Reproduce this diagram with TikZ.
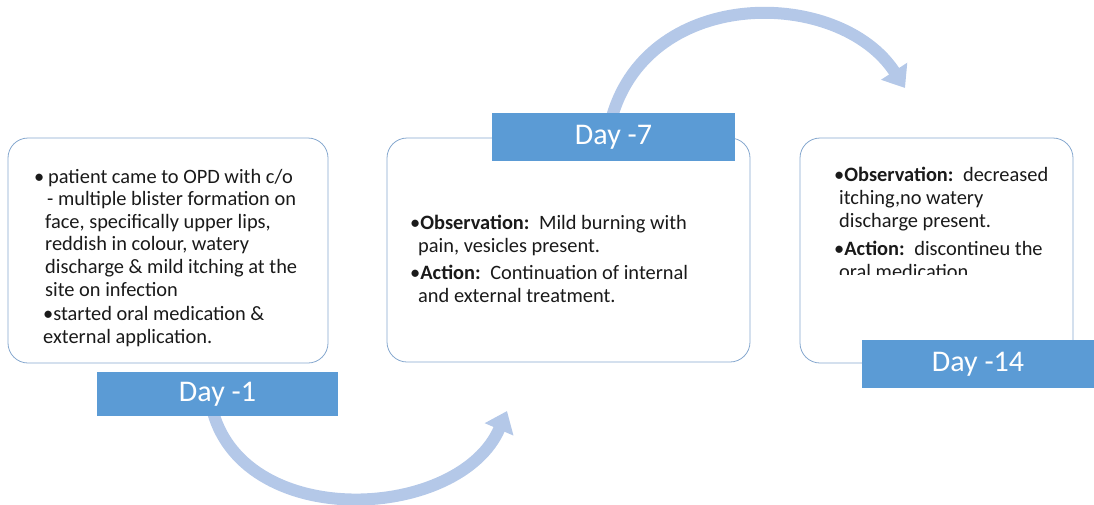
\documentclass[tikz,border=0pt]{standalone}
\usepackage{fontspec}
\setmainfont{Carlito}
\usetikzlibrary{arrows.meta,backgrounds}
\definecolor{tabblue}{HTML}{5B9BD5}
\definecolor{arrowblue}{HTML}{B4C8E8}
\definecolor{boxline}{HTML}{86A8CF}
\definecolor{bodytext}{HTML}{1A1A1A}
\begin{document}
\begin{tikzpicture}[x=1pt,y=-1pt,
  card/.style={draw=boxline, line width=0.8pt, rounded corners=20pt, fill=white, inner sep=0pt},
  daytab/.style={fill=tabblue, text=white, font=\fontsize{30}{36}\selectfont, inner sep=0pt},
  flow/.style={draw=arrowblue, line width=12pt, -{Triangle[length=20pt,width=30pt]}},
  % multi-line text: the base anchor sits on the baseline of the last line
  body/.style={align=left, anchor=base west, inner sep=0pt, text=bodytext,
    font=\fontsize{20.4}{22.6}\selectfont},
]
\useasboundingbox (0,0) rectangle (1094,504);

% content cards
\node[card, minimum width=320pt, minimum height=225pt] (c1) at (168,250.5) {};
\node[card, minimum width=363pt, minimum height=224pt] (c2) at (568.5,250) {};
\node[card, minimum width=273pt, minimum height=225pt] (c3) at (936.5,250.5) {};

% day tabs
\node[daytab, minimum width=241pt, minimum height=44pt] (d1) at (217.5,394) {Day -1};
\node[daytab, minimum width=243pt, minimum height=48pt] (d7) at (613.5,137) {Day -7};
\node[daytab, minimum width=232pt, minimum height=48pt] (d14) at (978,364) {Day -14};

% connecting arrows, drawn behind the tabs
\coordinate (t1) at (507,411);
\coordinate (t2) at (905,88);
\begin{scope}[on background layer]
  \path (d1.south) ++(-4.5,-4) coordinate (s1);
  \path (d7.north) ++(-1.5,4) coordinate (s2);
  \draw[flow] (s1) .. controls (247,532) and (460,520) .. (t1);
  \draw[flow] (s2) .. controls (650,-15) and (840,-12) .. (t2);
\end{scope}

% card texts
\node[body] (b1a) at (45,296) {\llap{•\hspace{1pt}}\hspace{3pt}patient came to OPD with c/o\\
\hspace{2pt}- multiple blister formation on\\ face, specifically upper lips,\\ reddish in colour, watery\\
discharge \& mild itching at the\\ site on infection};
\node[body] (b1b) at (43,343) {•started oral medication \&\\ external application.};

\node[body] (b2a) at (410,252) {•\textbf{Observation:}\, Mild burning with\\ \hspace{8pt}pain, vesicles present.};
\node[body] (b2b) at (410,302) {•\textbf{Action:}\, Continuation of internal\\ \hspace{8pt}and external treatment.};

\node[body] (b3a) at (834,227) {•\textbf{Observation:}\, decreased\\ \hspace{5pt}itching,no watery\\ \hspace{5pt}discharge present.};
\begin{scope}
  \clip (800,232) rectangle (1073,274);
  \node[body] (b3b) at (834,278) {•\textbf{Action:}\, discontineu the\\ \hspace{5pt}oral medication.};
\end{scope}
\end{tikzpicture}
\end{document}
